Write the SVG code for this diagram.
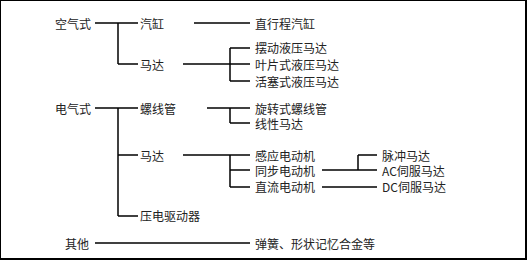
<svg xmlns="http://www.w3.org/2000/svg" width="527" height="260" viewBox="0 0 527 260">
<style>
text{font-family:"Noto Sans CJK SC","Noto Sans",sans-serif;font-size:12px;fill:#222;dominant-baseline:central}
.c line{stroke:#000;stroke-width:1.5}
</style>
<rect x="0" y="0" width="526" height="259" fill="#fff" stroke="#000" stroke-width="2"/>
<g class="c" id="connectors">
<line x1="95" y1="23" x2="138" y2="23"/>
<line x1="118" y1="23" x2="118" y2="64"/>
<line x1="118" y1="64" x2="138" y2="64"/>
<line x1="194" y1="23" x2="250" y2="23"/>
<line x1="183" y1="64" x2="250" y2="64"/>
<line x1="230" y1="48" x2="230" y2="81"/>
<line x1="230" y1="48" x2="250" y2="48"/>
<line x1="230" y1="81" x2="250" y2="81"/>
<line x1="95" y1="108" x2="138" y2="108"/>
<line x1="118" y1="108" x2="118" y2="216"/>
<line x1="118" y1="155" x2="138" y2="155"/>
<line x1="118" y1="216" x2="138" y2="216"/>
<line x1="207" y1="108" x2="250" y2="108"/>
<line x1="230" y1="108" x2="230" y2="123"/>
<line x1="230" y1="123" x2="250" y2="123"/>
<line x1="183" y1="155" x2="250" y2="155"/>
<line x1="230" y1="155" x2="230" y2="187"/>
<line x1="230" y1="170" x2="250" y2="170"/>
<line x1="230" y1="187" x2="250" y2="187"/>
<line x1="322" y1="170" x2="377" y2="170"/>
<line x1="358" y1="155" x2="358" y2="170"/>
<line x1="358" y1="155" x2="377" y2="155"/>
<line x1="322" y1="187" x2="377" y2="187"/>
<line x1="95" y1="243" x2="250" y2="243"/>
</g>
<g id="n-air"><text x="55" y="23">空气式</text></g>
<g id="n-cyl"><text x="140" y="23">汽缸</text></g>
<g id="n-motor1"><text x="140" y="64">马达</text></g>
<g id="n-linear-cyl"><text x="255" y="23">直行程汽缸</text></g>
<g id="n-swing"><text x="255" y="47">摆动液压马达</text></g>
<g id="n-vane"><text x="255" y="64">叶片式液压马达</text></g>
<g id="n-piston"><text x="255" y="81">活塞式液压马达</text></g>
<g id="n-elec"><text x="55" y="108">电气式</text></g>
<g id="n-sol"><text x="140" y="108">螺线管</text></g>
<g id="n-motor2"><text x="140" y="155">马达</text></g>
<g id="n-piezo"><text x="140" y="215">压电驱动器</text></g>
<g id="n-rot-sol"><text x="255" y="108">旋转式螺线管</text></g>
<g id="n-lin-motor"><text x="255" y="123">线性马达</text></g>
<g id="n-induct"><text x="255" y="155">感应电动机</text></g>
<g id="n-sync"><text x="255" y="170">同步电动机</text></g>
<g id="n-dc"><text x="255" y="186">直流电动机</text></g>
<g id="n-pulse"><text x="382" y="155">脉冲马达</text></g>
<g id="n-ac"><text x="382" y="170">AC伺服马达</text></g>
<g id="n-dcservo"><text x="382" y="186">DC伺服马达</text></g>
<g id="n-other"><text x="65" y="243">其他</text></g>
<g id="n-spring"><text x="255" y="243">弹簧、形状记忆合金等</text></g>
</svg>
